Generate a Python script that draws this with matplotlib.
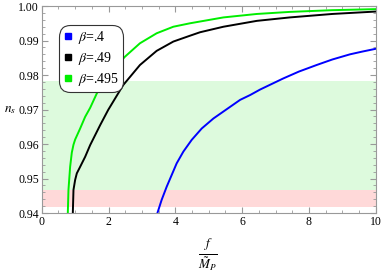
import numpy as np
import matplotlib
matplotlib.use("Agg")
import matplotlib.pyplot as plt
from matplotlib.ticker import MultipleLocator, AutoMinorLocator, FormatStrFormatter
from matplotlib.lines import Line2D

plt.rcParams['font.family'] = ['Liberation Serif', 'DejaVu Serif']
plt.rcParams['mathtext.fontset'] = 'stix'

# values
x_blue = [3.46, 3.59, 3.74, 3.89, 4.04, 4.24, 4.49, 4.79, 5.14, 5.54, 5.94, 6.24, 6.54, 7.23, 7.7, 8.23, 8.7, 9.23, 9.6, 10.0]
y_blue = [0.9399, 0.9438, 0.9476, 0.9510, 0.9544, 0.9578, 0.9612, 0.9645, 0.9674, 0.9701, 0.9728, 0.9742, 0.9758, 0.9790, 0.9810, 0.9829, 0.9845, 0.9860, 0.9868, 0.9876]

x_black = [0.93, 0.95, 1.00, 1.05, 1.15, 1.30, 1.45, 1.75, 1.99, 2.44, 2.94, 3.44, 3.94, 4.44, 4.74, 5.44, 6.44, 7.43, 8.7, 10.0]
y_black = [0.9399, 0.9467, 0.9496, 0.9515, 0.9534, 0.9563, 0.9597, 0.9655, 0.9699, 0.9771, 0.9829, 0.9870, 0.9897, 0.9914, 0.9924, 0.9940, 0.9957, 0.9967, 0.9977, 0.9984]

x_green = [0.78, 0.80, 0.85, 0.90, 0.95, 1.00, 1.15, 1.30, 1.45, 1.65, 2.0, 2.49, 2.94, 3.44, 3.94, 4.44, 5.44, 6.44, 7.43, 8.7, 10.0]
y_green = [0.9399, 0.9467, 0.9534, 0.9575, 0.9598, 0.9613, 0.9645, 0.9679, 0.9705, 0.9747, 0.9800, 0.9853, 0.9892, 0.9921, 0.9940, 0.9950, 0.9967, 0.9977, 0.9983, 0.9988, 0.9991]

green_band = (0.9467, 0.9783)
red_band = (0.9417, 0.9467)

labels = [r"$\beta$=.4", r"$\beta$=.49", r"$\beta$=.495"]
colors = ["#0000ff", "#000000", "#00ee00"]

fig = plt.figure(figsize=(3.83, 2.74), dpi=100)
ax = fig.add_axes([0.109, 0.2226, 0.872, 0.7554])

ax.axhspan(green_band[0], green_band[1], color="#ddfadd", lw=0)
ax.axhspan(red_band[0], red_band[1], color="#ffd9d9", lw=0)

for xs, ys, c in [(x_blue, y_blue, colors[0]), (x_black, y_black, colors[1]), (x_green, y_green, colors[2])]:
    ax.plot(xs, ys, color=c, lw=1.4, solid_joinstyle='round')

ax.set_xlim(0, 10)
ax.set_ylim(0.94, 1.00)
ax.xaxis.set_major_locator(MultipleLocator(2))
ax.xaxis.set_minor_locator(AutoMinorLocator(4))
ax.yaxis.set_major_locator(MultipleLocator(0.01))
ax.yaxis.set_minor_locator(AutoMinorLocator(5))
ax.yaxis.set_major_formatter(FormatStrFormatter('%.2f'))
ax.tick_params(which='both', direction='in', top=True, right=True, color='#999999', labelsize=8.5, pad=2)
ax.tick_params(which='major', length=4)
ax.tick_params(which='minor', length=2)
for s in ax.spines.values():
    s.set_color('#999999')

fig.text(0.025, 0.60, r"$n_s$", fontsize=9.5, ha='center', va='center')
fig.text(0.543, 0.072, r"$\frac{f}{\tilde{M}_P}$", fontsize=13.5, ha='center', va='center')

handles = [Line2D([], [], marker='s', ls='', color=c, markersize=5) for c in colors]
leg = ax.legend(handles, labels, loc='upper left', bbox_to_anchor=(0.06, 0.893),
                fontsize=10, handletextpad=0.35, labelspacing=0.3, borderpad=0.05,
                handlelength=0.8, borderaxespad=0, fancybox=True, framealpha=1)
leg.get_frame().set_edgecolor('#333333')
leg.get_frame().set_linewidth(0.8)
leg.get_frame().set_boxstyle('round', pad=0.2, rounding_size=0.8)

fig.savefig("out.png", dpi=100)
